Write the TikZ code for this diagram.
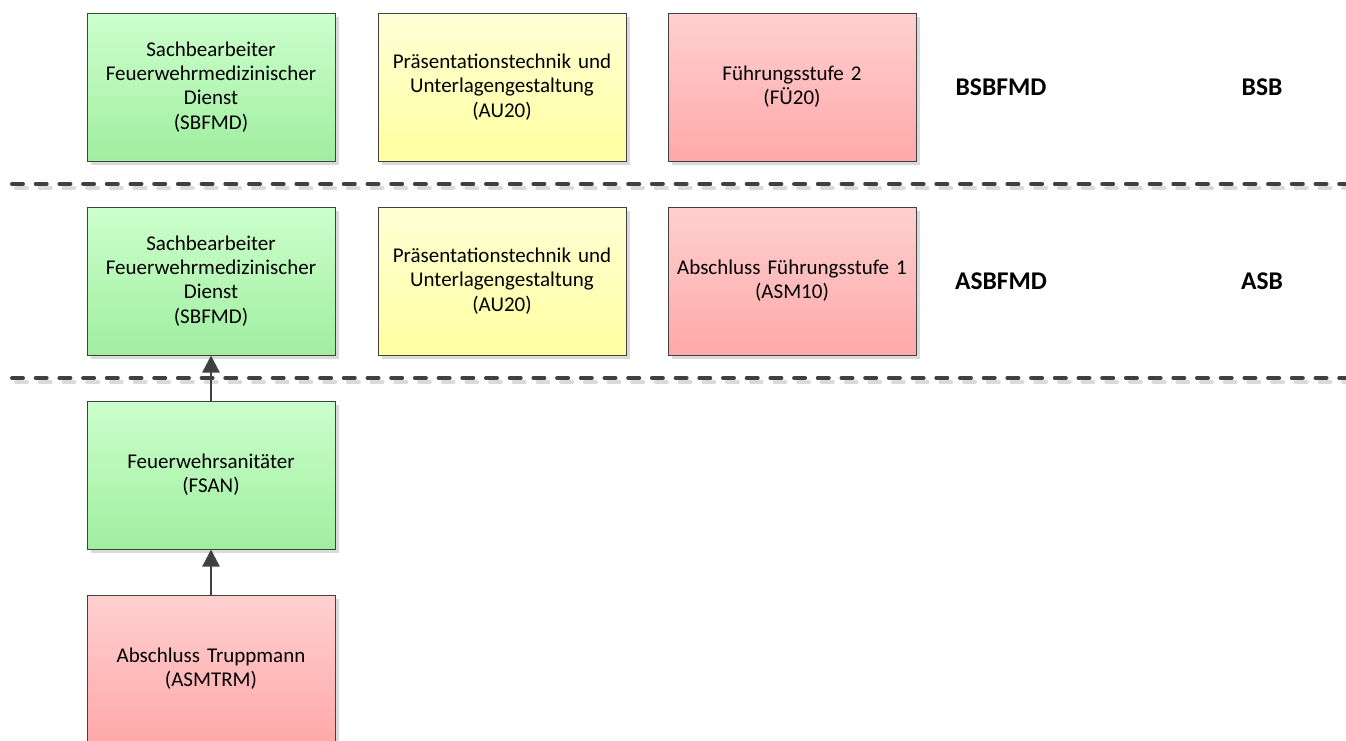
\documentclass[tikz,border=0pt]{standalone}
\usepackage{fontspec}
\setmainfont{Carlito}
\usetikzlibrary{arrows.meta,shadows}
\definecolor{edge}{HTML}{404040}
\definecolor{gtop}{RGB}{204,255,204}
\definecolor{gbot}{RGB}{160,238,160}
\definecolor{ytop}{RGB}{255,255,214}
\definecolor{ybot}{RGB}{255,255,160}
\definecolor{rtop}{RGB}{255,208,208}
\definecolor{rbot}{RGB}{255,168,168}
\definecolor{shade}{RGB}{218,218,218}
\tikzset{
  course/.style={rectangle, draw=edge, line width=1pt, minimum width=248pt, minimum height=148pt,
    inner sep=0pt, text width=244pt, align=center, font=\fontsize{21}{24.2}\selectfont,
    drop shadow={shadow xshift=4pt, shadow yshift=-4pt, fill=shade, opacity=1}},
  greenbox/.style={course, top color=gtop, bottom color=gbot},
  yellowbox/.style={course, top color=ytop, bottom color=ybot},
  redbox/.style={course, top color=rtop, bottom color=rbot},
  levellabel/.style={font=\fontsize{25.5}{30}\selectfont\bfseries, inner sep=0pt},
  sepline/.style={draw=edge, line width=4pt, line cap=round, dash pattern=on 11pt off 12.7pt},
  sepshadow/.style={draw=shade, line width=4pt, line cap=round, dash pattern=on 11pt off 12.7pt},
  arr/.style={draw=edge, line width=2.5pt, -{Triangle[length=17pt,width=17pt]}}
}
\begin{document}
\begin{tikzpicture}[x=1pt,y=-1pt]
\useasboundingbox (0,0) rectangle (1346,740);
\clip (0,0) rectangle (1346,740);
% row 1
\node[greenbox] (sb1) at (211,87) {Sachbearbeiter\\Feuerwehrmedizinischer\\Dienst\\(SBFMD)};
\node[yellowbox] (au1) at (502,87) {Präsentationstechnik und\\Unterlagengestaltung\\(AU20)};
\node[redbox] (fu2) at (792,87) {Führungsstufe 2\\(FÜ20)};
\node[levellabel] (l1a) at (1001,87) {BSBFMD};
\node[levellabel] (l1b) at (1262,87) {BSB};
% separators
\coordinate (s1a) at (12,184); \coordinate (s1b) at (1346,184);
\coordinate (s2a) at (12,378); \coordinate (s2b) at (1346,378);
\draw[sepshadow] ([shift={(4,4)}]s1a) -- ([shift={(4,4)}]s1b);
\draw[sepline] (s1a) -- (s1b);
\draw[sepshadow] ([shift={(4,4)}]s2a) -- ([shift={(4,4)}]s2b);
\draw[sepline] (s2a) -- (s2b);
% row 2
\node[greenbox] (sb2) at (211,281) {Sachbearbeiter\\Feuerwehrmedizinischer\\Dienst\\(SBFMD)};
\node[yellowbox] (au2) at (502,281) {Präsentationstechnik und\\Unterlagengestaltung\\(AU20)};
\node[redbox] (asm10) at (792,281) {Abschluss Führungsstufe 1\\(ASM10)};
\node[levellabel] (l2a) at (1001,281) {ASBFMD};
\node[levellabel] (l2b) at (1262,281) {ASB};
% row 3 and 4
\node[greenbox] (fsan) at (211,475) {Feuerwehrsanitäter\\(FSAN)};
\node[redbox] (trm) at (211,669) {Abschluss Truppmann\\(ASMTRM)};
% arrows
\draw[arr] (trm.north) -- (fsan.south);
\draw[arr] (fsan.north) -- (sb2.south);
\end{tikzpicture}
\end{document}
